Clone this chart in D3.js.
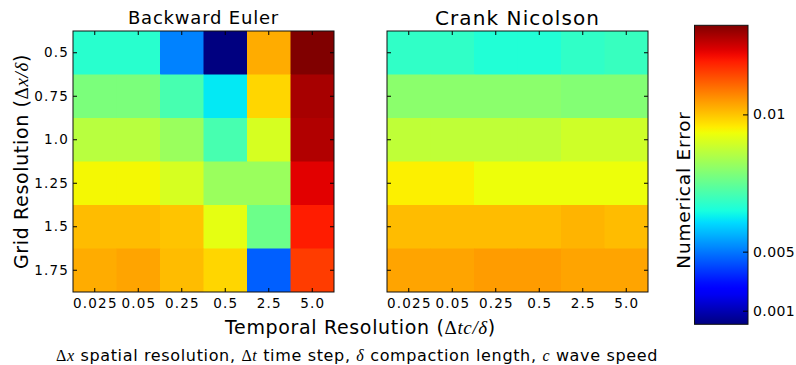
<!DOCTYPE html>
<html>
<head>
<meta charset="utf-8">
<script src="https://cdn.jsdelivr.net/npm/d3@7"></script>
<style>
  body { margin: 0; background: #fff; }
  svg { display: block; font-family: "DejaVu Sans", sans-serif; }
  .m { font-family: "Liberation Serif", serif; font-style: italic; }
  .u { font-family: "Liberation Serif", serif; font-style: normal; }
</style>
</head>
<body>
<svg id="chart" width="796" height="365"></svg>
<script>
// grid resolution (rows) and temporal resolution (columns)
const rowLabels = ["0.5", "0.75", "1.0", "1.25", "1.5", "1.75"];
const colLabels = ["0.025", "0.05", "0.25", "0.5", "2.5", "5.0"];

// numerical error
const backwardEuler = [
  [0.0067, 0.0067, 0.0051, 0.0001, 0.0103, 0.0135],
  [0.0078, 0.0078, 0.0071, 0.0062, 0.0098, 0.0131],
  [0.0086, 0.0086, 0.0082, 0.0071, 0.0090, 0.0130],
  [0.0094, 0.0094, 0.0090, 0.0082, 0.0082, 0.0125],
  [0.0101, 0.0101, 0.0100, 0.0092, 0.0076, 0.0121],
  [0.0103, 0.0104, 0.0101, 0.0098, 0.0045, 0.0117]
];
const crankNicolson = [
  [0.0068, 0.0068, 0.0066, 0.0066, 0.0068, 0.0069],
  [0.0080, 0.0080, 0.0080, 0.0080, 0.0079, 0.0079],
  [0.0087, 0.0087, 0.0087, 0.0087, 0.0089, 0.0089],
  [0.0095, 0.0095, 0.0093, 0.0093, 0.0093, 0.0093],
  [0.0101, 0.0101, 0.0101, 0.0101, 0.0102, 0.0101],
  [0.0104, 0.0104, 0.0105, 0.0105, 0.0104, 0.0104]
];

// colour bar: error stops and where they sit on the bar (0 = bottom, 1 = top)
const errStops = [0.0001, 0.001, 0.005, 0.01, 0.0135];
const fracStops = [0, 0.0455, 0.243, 0.702, 1];
const cbarTicks = [0.001, 0.005, 0.01];
const cbarTickLabels = ["0.001", "0.005", "0.01"];

// jet colormap
const jetR = d3.scaleLinear().domain([0, 0.35, 0.66, 0.89, 1]).range([0, 0, 1, 1, 0.5]).clamp(true);
const jetG = d3.scaleLinear().domain([0, 0.125, 0.375, 0.64, 0.91, 1]).range([0, 0, 1, 1, 0, 0]).clamp(true);
const jetB = d3.scaleLinear().domain([0, 0.11, 0.34, 0.65, 1]).range([0.5, 1, 1, 0, 0]).clamp(true);
function jet(t) {
  return d3.rgb(255 * jetR(t), 255 * jetG(t), 255 * jetB(t)).formatHex();
}
let norm = d3.scaleLinear().domain(errStops).range(fracStops).clamp(true);
let color = function (v) { return jet(norm(v)); };

let svg = d3.select("#chart");
let size = 261;
let panelTop = 31;

function drawPanel(x0, title, titleSize, titleSpacing, values, showRowLabels) {
  let g = svg.append("g").attr("transform", "translate(" + x0 + "," + panelTop + ")");
  let x = d3.scaleBand().domain(colLabels).range([0, size]);
  let y = d3.scaleBand().domain(rowLabels).range([0, size]);

  let rows = g.selectAll(".row")
    .data(values)
    .enter().append("g")
    .attr("class", "row");
  rows.selectAll("rect")
    .data(function (d, i) {
      return d.map(function (v, j) { return { r: rowLabels[i], c: colLabels[j], v: v }; });
    })
    .enter().append("rect")
    .attr("x", function (d) { return x(d.c); })
    .attr("y", function (d) { return y(d.r); })
    .attr("width", function (d) { return x.bandwidth() + (d.c === colLabels[colLabels.length - 1] ? 0 : 0.5); })
    .attr("height", function (d) { return y.bandwidth() + (d.r === rowLabels[rowLabels.length - 1] ? 0 : 0.5); })
    .attr("fill", function (d) { return color(d.v); });

  g.append("g")
    .attr("transform", "translate(0," + size + ")")
    .call(d3.axisBottom(x).tickSizeInner(-4).tickSizeOuter(0).tickPadding(6))
    .selectAll(".tick text").attr("dx", "0.6px");
  g.append("g")
    .call(d3.axisTop(x).tickSizeInner(-4).tickSizeOuter(0).tickFormat(""));
  g.append("g")
    .call(d3.axisLeft(y).tickSizeInner(-4).tickSizeOuter(0).tickPadding(4)
      .tickFormat(showRowLabels ? null : ""));
  g.append("g")
    .attr("transform", "translate(" + size + ",0)")
    .call(d3.axisRight(y).tickSizeInner(-4).tickSizeOuter(0).tickFormat(""));

  g.selectAll(".domain").remove();
  g.selectAll(".tick line").attr("stroke", "#000");
  g.selectAll(".tick text")
    .attr("fill", "#000")
    .style("font-family", "'DejaVu Sans', sans-serif")
    .style("font-size", "13.5px")
    .style("letter-spacing", "1.2px");

  g.append("rect")
    .attr("width", size)
    .attr("height", size)
    .attr("fill", "none")
    .attr("stroke", "#111")
    .attr("stroke-width", 1);

  g.append("text")
    .attr("x", size / 2)
    .attr("y", titleSize === 18 ? -7 : -6)
    .attr("text-anchor", "middle")
    .style("font-size", titleSize + "px")
    .style("letter-spacing", titleSpacing + "px")
    .text(title);
}

drawPanel(73, "Backward Euler", 18, 0.8, backwardEuler, true);
drawPanel(387, "Crank Nicolson", 20, 1.1, crankNicolson, false);

// axis labels
let ylab = svg.append("text")
  .attr("transform", "translate(28," + (panelTop + size / 2) + ") rotate(-90)")
  .attr("text-anchor", "middle")
  .style("font-size", "19px")
  .style("letter-spacing", "0.65px");
ylab.append("tspan").text("Grid Resolution (");
ylab.append("tspan").attr("class", "u").text("Δ");
ylab.append("tspan").attr("class", "m").text("x/δ");
ylab.append("tspan").text(")");

let xlab = svg.append("text")
  .attr("x", (73 + 387 + size) / 2)
  .attr("y", 334)
  .attr("text-anchor", "middle")
  .style("font-size", "19px")
  .style("letter-spacing", "0.65px");
xlab.append("tspan").text("Temporal Resolution (");
xlab.append("tspan").attr("class", "u").text("Δ");
xlab.append("tspan").attr("class", "m").text("tc/δ");
xlab.append("tspan").text(")");

let cap = svg.append("text")
  .attr("x", 357)
  .attr("y", 361)
  .attr("text-anchor", "middle")
  .style("font-size", "16px")
  .style("letter-spacing", "0.65px");
cap.append("tspan").attr("class", "u").text("Δ");
cap.append("tspan").attr("class", "m").text("x");
cap.append("tspan").text(" spatial resolution, ");
cap.append("tspan").attr("class", "u").text("Δ");
cap.append("tspan").attr("class", "m").text("t");
cap.append("tspan").text(" time step, ");
cap.append("tspan").attr("class", "m").text("δ");
cap.append("tspan").text(" compaction length, ");
cap.append("tspan").attr("class", "m").text("c");
cap.append("tspan").text(" wave speed");

// colour bar
let cbX = 694.5, cbTop = 25.3, cbW = 53.5, cbH = 299;
let grad = svg.append("defs").append("linearGradient")
  .attr("id", "jetGrad")
  .attr("x1", 0).attr("y1", 1).attr("x2", 0).attr("y2", 0);
grad.selectAll("stop")
  .data(d3.range(0, 1.0001, 0.02))
  .enter().append("stop")
  .attr("offset", function (d) { return d; })
  .attr("stop-color", function (d) { return jet(d); });

svg.append("rect")
  .attr("x", cbX).attr("y", cbTop)
  .attr("width", cbW).attr("height", cbH)
  .attr("fill", "url(#jetGrad)")
  .attr("stroke", "#111");

let cbScale = d3.scaleLinear()
  .domain(errStops)
  .range(fracStops.map(function (f) { return cbTop + (1 - f) * cbH; }));
let cbAxis = svg.append("g")
  .attr("transform", "translate(" + (cbX + cbW) + ",0)")
  .call(d3.axisRight(cbScale).tickValues(cbarTicks).tickSizeInner(-5).tickSizeOuter(0).tickPadding(5)
    .tickFormat(function (d, i) { return cbarTickLabels[i]; }));
cbAxis.select(".domain").remove();
cbAxis.selectAll(".tick line").attr("stroke", "#000");
cbAxis.selectAll(".tick text")
  .attr("fill", "#000")
  .style("font-family", "'DejaVu Sans', sans-serif")
  .style("font-size", "14px")
  .style("letter-spacing", "0.4px");

svg.append("text")
  .attr("transform", "translate(690,190) rotate(-90)")
  .attr("text-anchor", "middle")
  .style("font-size", "18.5px")
  .style("letter-spacing", "0.8px")
  .text("Numerical Error");
</script>
</body>
</html>
